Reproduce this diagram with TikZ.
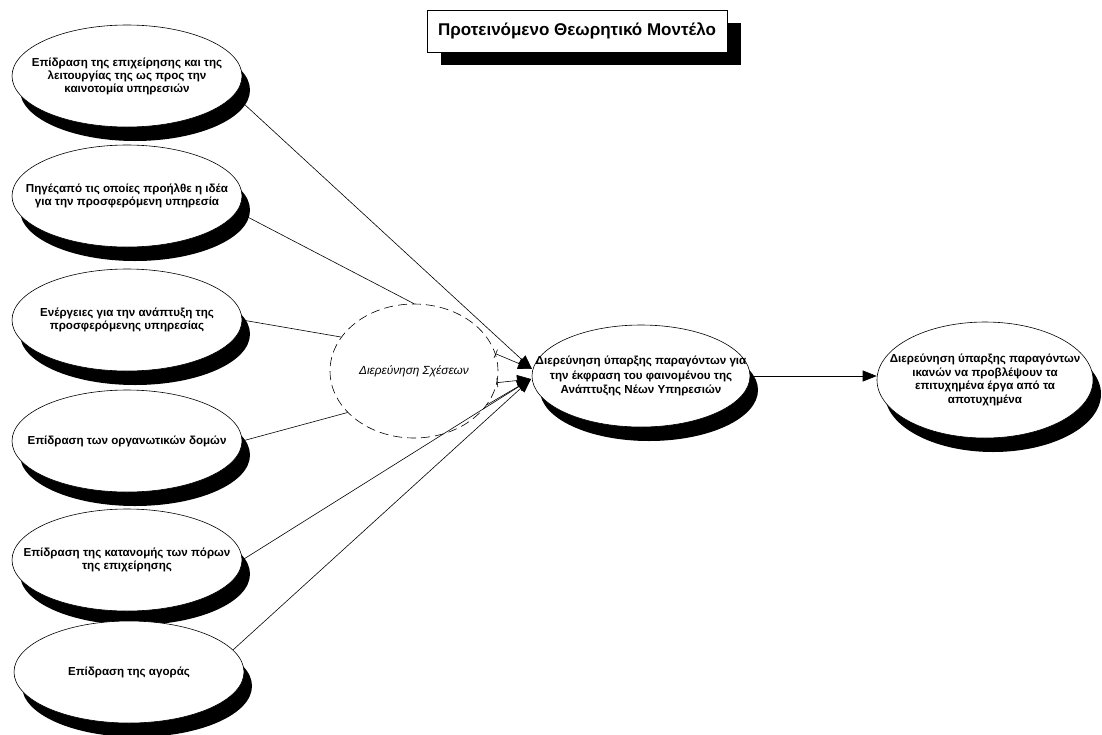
\documentclass[tikz,border=0pt]{standalone}
\usepackage{fontspec}
\setmainfont{Liberation Sans}
\usetikzlibrary{shadows,arrows.meta,calc,shapes.geometric}
\begin{document}
\begin{tikzpicture}[x=1pt,y=-1pt,
  oval/.style={ellipse,draw=black,line width=0.6pt,fill=white,inner sep=0pt,
    drop shadow={shadow xshift=8pt,shadow yshift=-14pt,fill=black,opacity=1}},
  leftoval/.style={oval,minimum width=230pt,minimum height=102pt},
  lbl/.style={font=\bfseries\fontsize{11.6}{13}\selectfont,align=center,inner sep=0pt},
  dashoval/.style={ellipse,draw=black,line width=0.6pt,dash pattern=on 9pt off 5pt,inner sep=0pt,minimum width=168pt,minimum height=134pt},
  conn/.style={line width=0.6pt},
  arr/.style={conn,-{Triangle[length=14pt,width=11pt]}},
  bararr/.style={conn,{Bar[width=9pt,line width=0.6pt]}-{Triangle[length=14pt,width=11pt]}},
  titlebox/.style={draw=black,line width=0.6pt,fill=white,minimum width=300pt,minimum height=42pt,inner sep=0pt,
    font=\bfseries\fontsize{17}{19}\selectfont,
    drop shadow={shadow xshift=14pt,shadow yshift=-13pt,fill=black,opacity=1}}
]
\useasboundingbox (0,0) rectangle (1102,734);

\node[titlebox] (title) at (577,31) {Προτεινόμενο Θεωρητικό Μοντέλο};

\node[leftoval] (e1) at (127,76) {};
\node[lbl] (e1t) at (e1) {Επίδραση της επιχείρησης και της\\λειτουργίας της ως προς την\\καινοτομία υπηρεσιών};
\node[leftoval] (e2) at (127,196) {};
\node[lbl] (e2t) at (e2) {Πηγέςαπό τις οποίες προήλθε η ιδέα\\για την προσφερόμενη υπηρεσία};
\node[leftoval] (e3) at (127,320) {};
\node[lbl] (e3t) at (e3) {Ενέργειες για την ανάπτυξη της\\προσφερόμενης υπηρεσίας};
\node[leftoval] (e4) at (127,441) {};
\node[lbl] (e4t) at (e4) {Επίδραση των οργανωτικών δομών};
\node[leftoval] (e5) at (127,560) {};
\node[lbl] (e5t) at (e5) {Επίδραση της κατανομής των πόρων\\της επιχείρησης};
\node[leftoval] (e6) at (129,672) {};
\node[lbl] (e6t) at (e6) {Επίδραση της αγοράς};

\node[dashoval] (D) at (414,371) {};
\node[inner sep=0pt,font=\itshape\fontsize{11.8}{14}\selectfont] (Dt) at (D) {Διερεύνηση Σχέσεων};

\node[oval,minimum width=218pt,minimum height=102pt] (T) at (641,376) {};
\node[lbl,font=\bfseries\fontsize{11.6}{14.5}\selectfont] (Tt) at (T) {Διερεύνηση ύπαρξης παραγόντων για\\την έκφραση του φαινομένου της\\Ανάπτυξης Νέων Υπηρεσιών};

\node[oval,minimum width=216pt,minimum height=116pt] (R) at (985,380) {};
\node[lbl,font=\bfseries\fontsize{11.6}{13.5}\selectfont] (Rt) at (R) {Διερεύνηση ύπαρξης παραγόντων\\ικανών να προβλέψουν τα\\επιτυχημένα έργα από τα\\αποτυχημένα};

\coordinate (tipA) at (532,369);
\coordinate (tipB) at (531,379);

\draw[arr] (e1.-10) -- (tipA);
\draw[conn] (e2.-8) -- (D.north);
\draw[conn] (e3.east) -- (D.155);
\draw[conn] (e4.east) -- (D.212);
\draw[arr] (e5.east) -- (tipB);
\draw[arr] (e6.12) -- (tipB);

\draw[bararr] (D.12) -- (tipA);
\draw[bararr] (D.-8) -- (tipB);
\draw[arr] (D.-25) -- (tipB);

\draw[arr] (T.east) -- (T.east -| R.west);
\end{tikzpicture}
\end{document}
